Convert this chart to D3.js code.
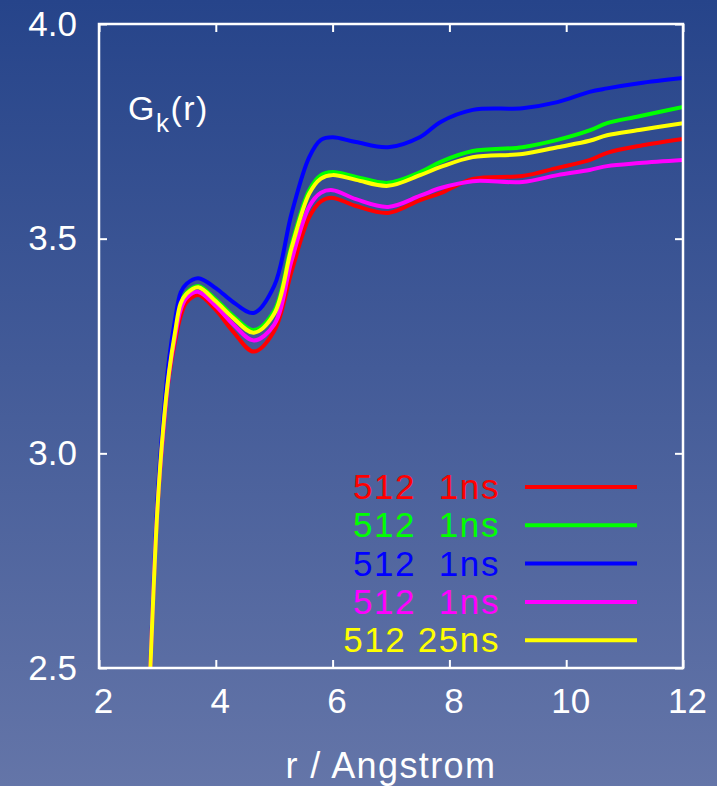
<!DOCTYPE html>
<html>
<head>
<meta charset="utf-8">
<script src="https://cdn.jsdelivr.net/npm/d3@7"></script>
<style>
html,body{margin:0;padding:0;}
svg{display:block;}
text{font-family:"Liberation Sans", Arial, Helvetica, sans-serif;}
</style>
</head>
<body>
<svg id="chart" width="717" height="786"></svg>
<script>
// ---- data ----
const rValues       = [2.88, 3.0,  3.1,  3.2,   3.3,   3.4,   3.5,   3.7,   4.0,   4.3,   4.65,  5.0,   5.3,   5.6,   5.8,   6.0,   6.4,   6.95,  7.5,   7.85,  8.4,   9.25,  9.85,  10.4,  10.7,  11.25, 12.0];
const redValues     = [2.5,  2.87, 3.05, 3.180, 3.260, 3.320, 3.352, 3.369, 3.334, 3.283, 3.237, 3.285, 3.425, 3.550, 3.587, 3.595, 3.576, 3.560, 3.590, 3.606, 3.639, 3.646, 3.665, 3.683, 3.700, 3.716, 3.732];
const greenValues   = [2.5,  2.87, 3.06, 3.193, 3.283, 3.353, 3.375, 3.390, 3.358, 3.320, 3.287, 3.332, 3.487, 3.613, 3.648, 3.655, 3.644, 3.630, 3.655, 3.679, 3.704, 3.713, 3.730, 3.752, 3.769, 3.785, 3.807];
const blueValues    = [2.5,  2.89, 3.08, 3.220, 3.310, 3.375, 3.395, 3.408, 3.385, 3.352, 3.327, 3.390, 3.560, 3.690, 3.730, 3.736, 3.725, 3.713, 3.737, 3.772, 3.800, 3.804, 3.818, 3.842, 3.850, 3.862, 3.874];
const magentaValues = [2.5,  2.87, 3.05, 3.185, 3.270, 3.335, 3.362, 3.376, 3.343, 3.300, 3.263, 3.300, 3.450, 3.575, 3.607, 3.613, 3.592, 3.574, 3.600, 3.618, 3.634, 3.632, 3.648, 3.660, 3.669, 3.676, 3.683];
const yellowValues  = [2.5,  2.87, 3.06, 3.190, 3.280, 3.350, 3.372, 3.387, 3.354, 3.315, 3.281, 3.325, 3.480, 3.605, 3.640, 3.648, 3.637, 3.623, 3.648, 3.667, 3.690, 3.697, 3.713, 3.728, 3.741, 3.753, 3.769];
const seriesNames  = ["512  1ns", "512  1ns", "512  1ns", "512  1ns", "512 25ns"];
const seriesColors = ["#ff0000", "#00ff00", "#0000ff", "#ff00ff", "#ffff00"];
const xTicks = [2, 4, 6, 8, 10, 12];
const yTicks = [2.5, 3.0, 3.5, 4.0];
const yLabel = "G";
const yLabelSub = "k";
const yLabelTail = "(r)";
const xTitle = "r / Angstrom";

const seriesValues = [redValues, greenValues, blueValues, magentaValues, yellowValues];

// ---- layout ----
const W = 717, H = 786;
const L = 99, R = 683, T = 24, B = 668;
const svg = d3.select("#chart");

const defs = svg.append("defs");
const grad = defs.append("linearGradient").attr("id","bg").attr("x1",0).attr("y1",0).attr("x2",0).attr("y2",1);
grad.append("stop").attr("offset","0%").attr("stop-color","#26448a");
grad.append("stop").attr("offset","100%").attr("stop-color","#6475a8");
svg.append("rect").attr("width",W).attr("height",H).attr("fill","url(#bg)");

const x = d3.scaleLinear().domain([2, 12]).range([L, R]);
const y = d3.scaleLinear().domain([2.5, 4.0]).range([B, T]);

const clip = defs.append("clipPath").attr("id","clip");
clip.append("rect").attr("x",L).attr("y",T).attr("width",R-L).attr("height",B-T);

// curves
const line = d3.line().x(d => x(d[0])).y(d => y(d[1])).curve(d3.curveCatmullRom.alpha(0.5));
const g = svg.append("g").attr("clip-path","url(#clip)");
seriesValues.forEach((vals, i) => {
  const pts = rValues.map((r, j) => [r, vals[j]]);
  g.append("path").datum(pts).attr("d", line)
    .attr("fill","none").attr("stroke", seriesColors[i])
    .attr("stroke-width", 4).attr("stroke-linejoin","round");
});

// axes (inward ticks, mirrored)
const tickLen = 8;
const axStyle = sel => {
  sel.select(".domain").remove();
  sel.selectAll(".tick line").attr("stroke","#fff").attr("stroke-width",2);
  sel.selectAll(".tick text").attr("fill","#fff").attr("font-size",35)
     .attr("font-family",'"Liberation Sans", Arial, sans-serif');
};
svg.append("g").attr("transform",`translate(0,${B})`)
  .call(d3.axisBottom(x).tickValues(xTicks).tickSize(-tickLen).tickPadding(20).tickFormat(d3.format("d")))
  .call(axStyle)
  .selectAll(".tick text").attr("dx", 4);
svg.append("g").attr("transform",`translate(0,${T})`)
  .call(d3.axisTop(x).tickValues(xTicks).tickSize(-tickLen).tickFormat(""))
  .call(axStyle);
svg.append("g").attr("transform",`translate(${L},0)`)
  .call(d3.axisLeft(y).tickValues(yTicks).tickSize(-tickLen).tickPadding(22).tickFormat(d3.format(".1f")))
  .call(axStyle);
svg.append("g").attr("transform",`translate(${R},0)`)
  .call(d3.axisRight(y).tickValues(yTicks).tickSize(-tickLen).tickFormat(""))
  .call(axStyle);

// frame
svg.append("rect").attr("x",L).attr("y",T).attr("width",R-L).attr("height",B-T)
  .attr("fill","none").attr("stroke","#fff").attr("stroke-width",2.5);

// y label
const yl = svg.append("text").attr("x",128).attr("y",120).attr("fill","#fff").attr("font-size",34).attr("letter-spacing",1.5);
yl.append("tspan").text(yLabel);
yl.append("tspan").attr("font-size",26).attr("dy",12).text(yLabelSub);
yl.append("tspan").attr("dy",-12).text(yLabelTail);

// x title
svg.append("text").attr("x",(L+R)/2).attr("y",778).attr("text-anchor","middle")
  .attr("fill","#fff").attr("font-size",36).attr("letter-spacing",1.4).text(xTitle);

// legend
const legY0 = 487, legDy = 38.3;
seriesNames.forEach((name, i) => {
  const cy = legY0 + i*legDy;
  svg.append("text").attr("x",500).attr("y",cy+12).attr("text-anchor","end")
    .attr("fill",seriesColors[i]).attr("font-size",35).attr("letter-spacing",1.6)
    .style("white-space","pre").text(name);
  svg.append("line").attr("x1",525).attr("x2",637).attr("y1",cy).attr("y2",cy)
    .attr("stroke",seriesColors[i]).attr("stroke-width",4);
});
</script>
</body>
</html>
